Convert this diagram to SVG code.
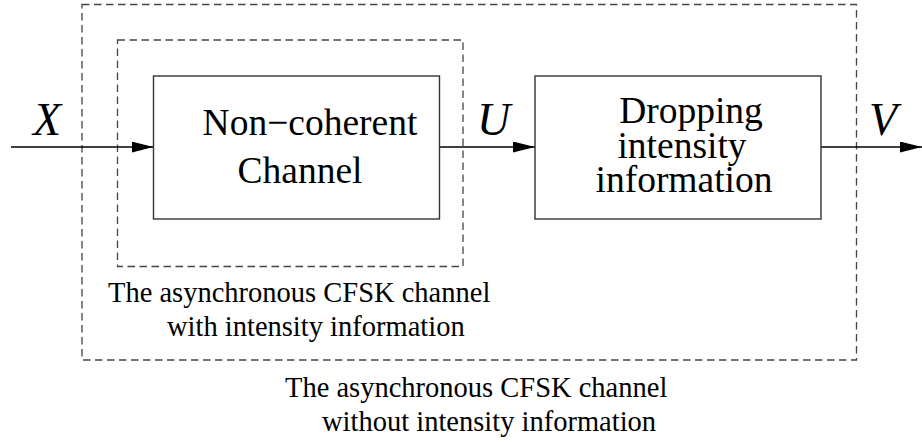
<svg xmlns="http://www.w3.org/2000/svg" width="922" height="443" viewBox="0 0 922 443">
<defs>
<style>
.box{fill:#fff;stroke:#333;stroke-width:1.4}
.dash{fill:none;stroke:#444;stroke-width:1.3;stroke-dasharray:7.5 4.5}
.conn{stroke:#000;stroke-width:1.3;fill:none}
.t{font-family:"Liberation Serif","Times New Roman",serif;fill:#000}
.big{font-size:37.5px;text-anchor:middle}
.lbl{font-size:28.5px}
.var{font-size:46px;font-style:italic}
</style>
<marker id="ah" viewBox="0 0 22 11" refX="22" refY="5.5" markerWidth="22" markerHeight="11" markerUnits="userSpaceOnUse" orient="auto">
<path d="M0,0 L22,5.5 L0,11 Z" fill="#000"/>
</marker>
</defs>
<rect width="922" height="443" fill="#fff"/>
<g id="outer-boundary">
<rect class="dash" x="82" y="4.5" width="774.5" height="355.5"/>
<text class="t lbl" x="285" y="397">The asynchronous CFSK channel</text>
<text class="t lbl" x="322" y="431">without intensity information</text>
</g>
<g id="inner-boundary">
<rect class="dash" x="117.5" y="40" width="345.5" height="226.5"/>
<text class="t lbl" x="108" y="302">The asynchronous CFSK channel</text>
<text class="t lbl" x="167" y="336">with intensity information</text>
</g>
<g id="connectors">
<line class="conn" x1="11" y1="147" x2="153.5" y2="147" marker-end="url(#ah)"/>
<line class="conn" x1="439.5" y1="147" x2="535" y2="147" marker-end="url(#ah)"/>
<line class="conn" x1="821" y1="147" x2="922" y2="147" marker-end="url(#ah)"/>
<text class="t var" x="33" y="135">X</text>
<text class="t var" x="477" y="135">U</text>
<text class="t var" x="869" y="135">V</text>
</g>
<g id="node-channel">
<rect class="box" x="153.5" y="76" width="286" height="143"/>
<text class="t big" x="310" y="135">Non−coherent</text>
<text class="t big" x="300" y="183">Channel</text>
</g>
<g id="node-dropping">
<rect class="box" x="535" y="76" width="286" height="143"/>
<text class="t big" x="691" y="123">Dropping</text>
<text class="t big" x="682" y="157.5">intensity</text>
<text class="t big" x="684" y="192">information</text>
</g>
</svg>
